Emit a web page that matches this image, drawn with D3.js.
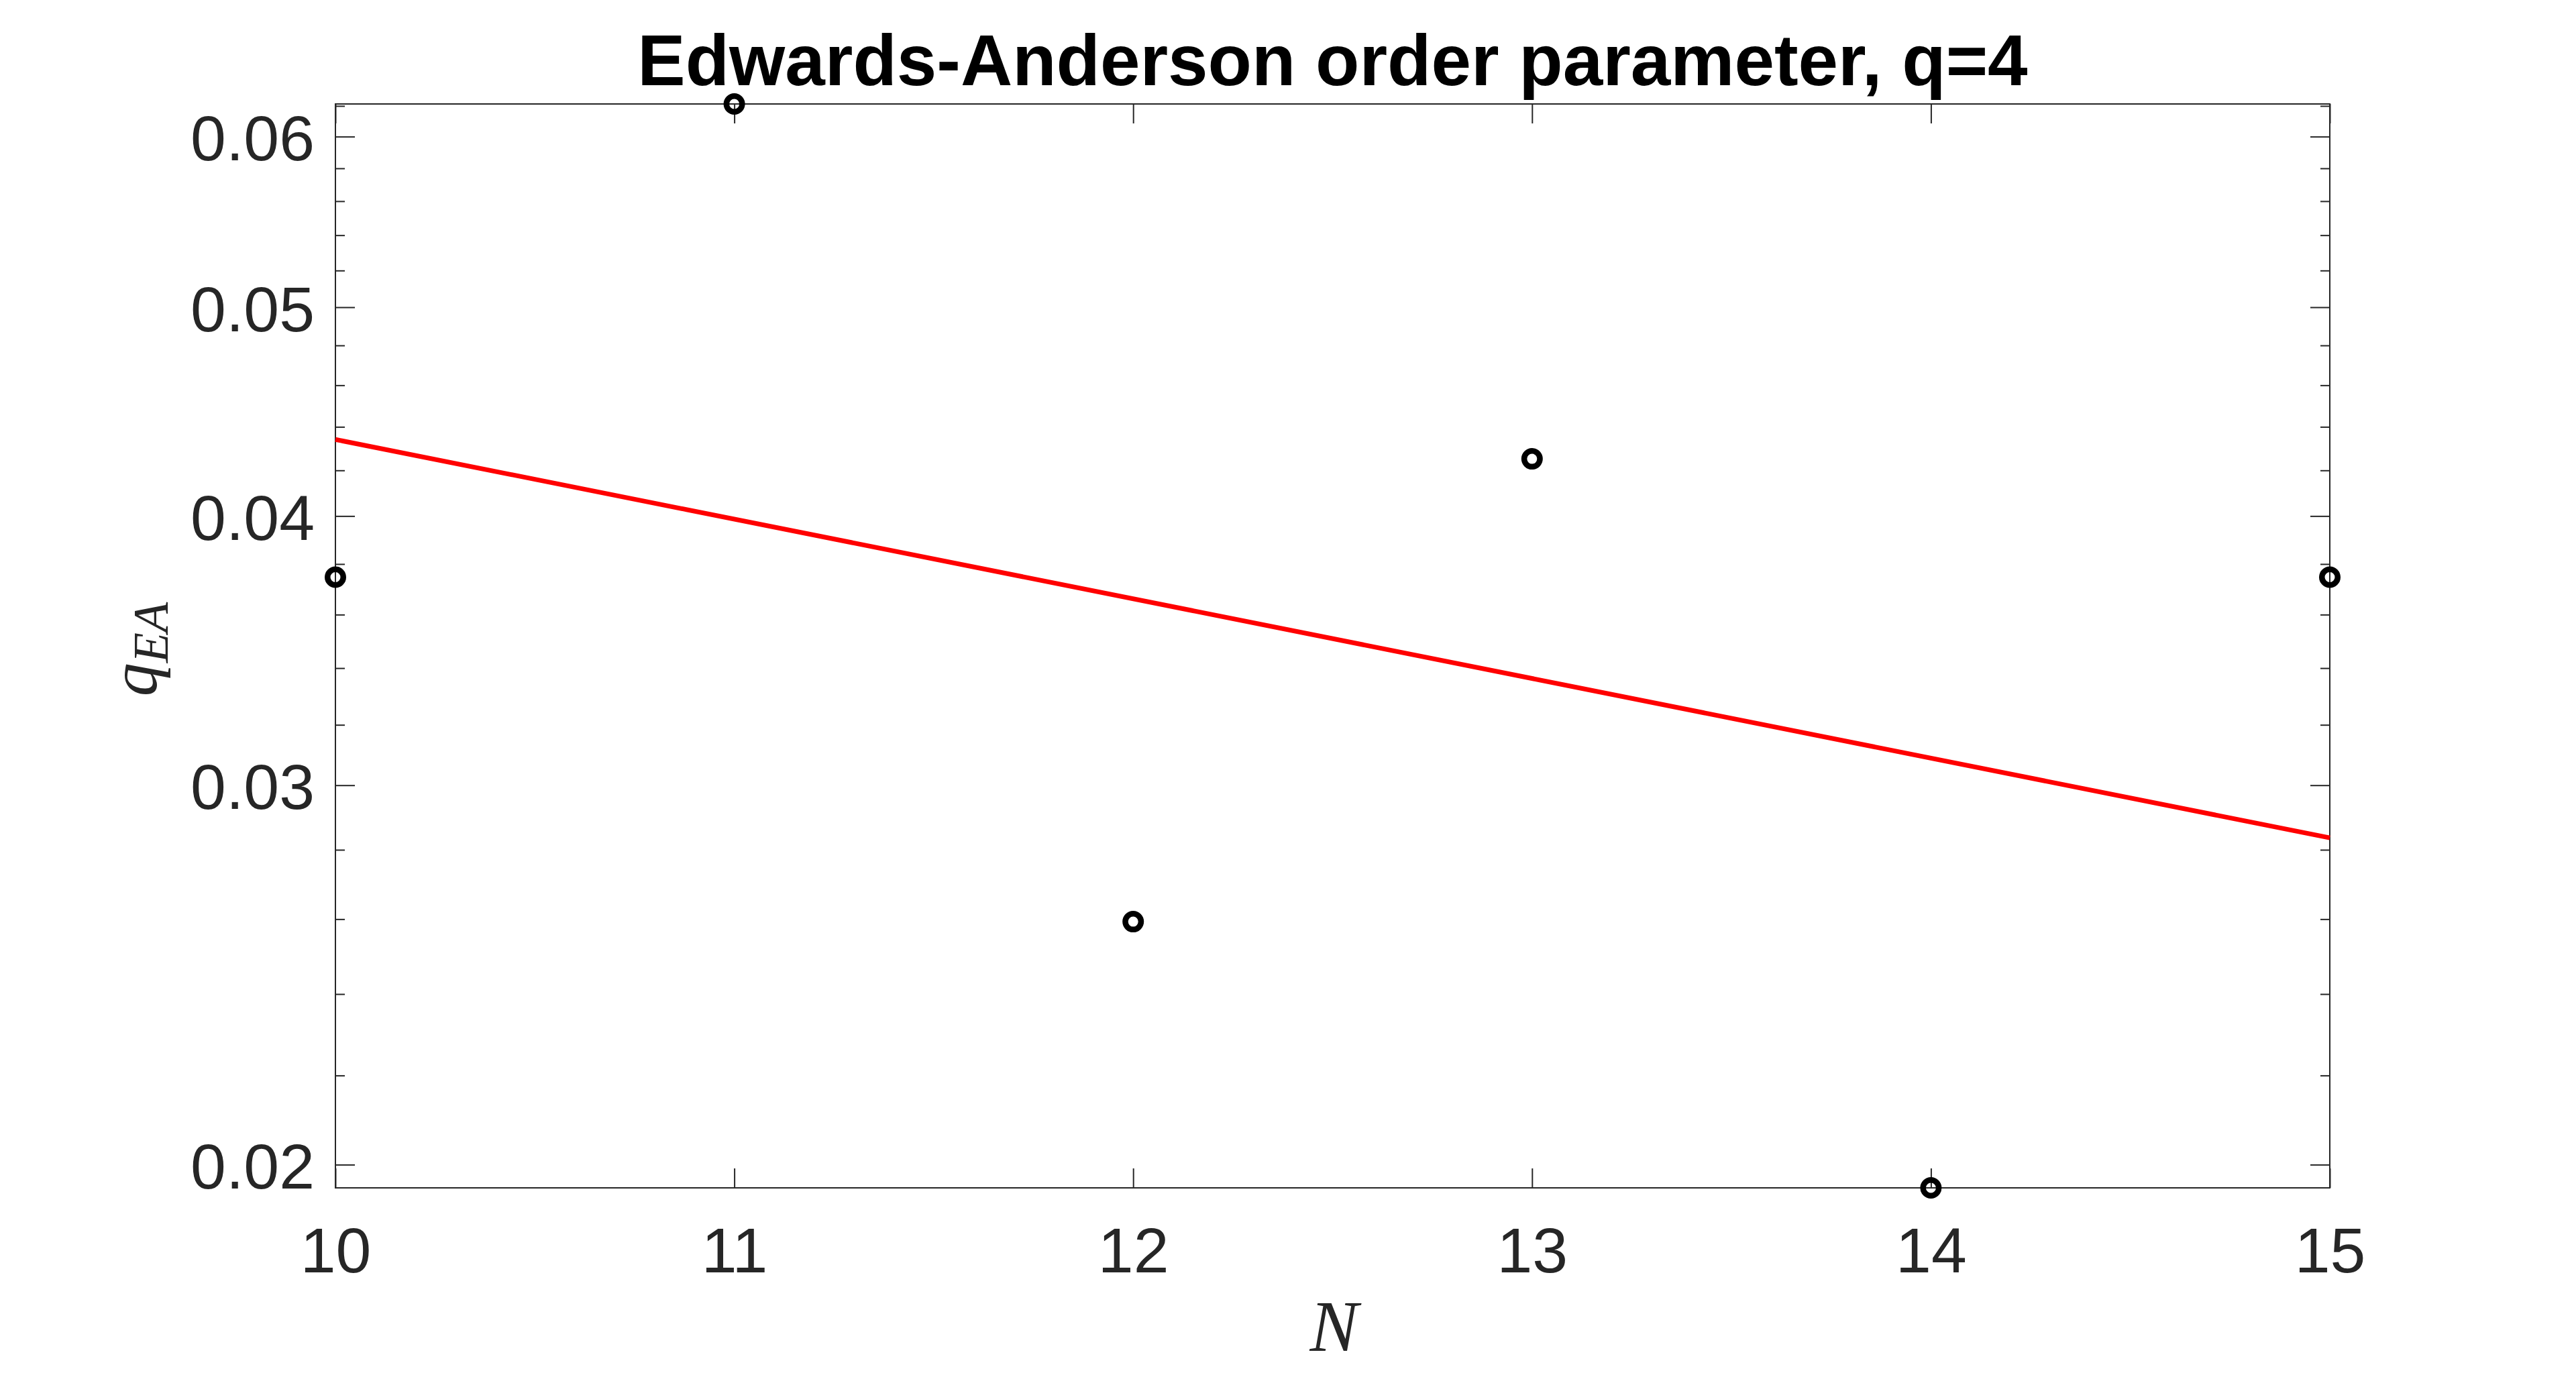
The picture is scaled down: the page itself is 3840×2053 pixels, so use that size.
<!DOCTYPE html>
<html>
<head>
<meta charset="utf-8">
<script src="https://cdn.jsdelivr.net/npm/d3@7"></script>
<style>
	body { margin: 0; background: #fff; }
	svg { display: block; }
</style>
</head>
<body>
<div id="chart"></div>
<script>
// data
var sizeN = [10, 11, 12, 13, 14, 15];
var qEA = [0.03747, 0.06213, 0.02593, 0.04252, 0.01951, 0.03747];

// exponential fit, end points
var fitN = [10, 15];
var fitQ = [0.04341, 0.02836];

var xTicks = [10, 11, 12, 13, 14, 15];
var yTicks = [0.02, 0.03, 0.04, 0.05, 0.06];
var yMinorTicks = [0.022, 0.024, 0.026, 0.028, 0.032, 0.034, 0.036, 0.038,
	0.042, 0.044, 0.046, 0.048, 0.052, 0.054, 0.056, 0.058, 0.062];

var titleText = "Edwards-Anderson order parameter, q=4";

var svgWidth = 3840;
var svgHeight = 2053;

var margin = {
	top: 155,
	right: 367,
	bottom: 282,
	left: 500
}

var width = svgWidth - margin.left - margin.right;
var height = svgHeight - margin.top - margin.bottom;

var axisColor = "#262626";
var majorLen = 29;
var minorLen = 14;

var svg = d3.select("#chart")
	.append("svg")
	.attr("width", svgWidth)
	.attr("height", svgHeight);

var chartGroup = svg.append("g")
	.attr("transform", `translate(${margin.left}, ${margin.top})`);

var xScale = d3.scaleLinear()
	.domain([10, 15])
	.range([0, width]);

var yScale = d3.scaleLog()
	.domain(d3.extent(qEA))
	.range([height, 0]);

// axes: bottom/left with labels, top/right ticks only, all ticks inward
function styleAxis(g) {
	g.select(".domain").remove();
	g.selectAll(".tick line").attr("stroke", axisColor).attr("stroke-width", 2);
	g.selectAll(".tick text")
		.attr("fill", axisColor)
		.style("font-family", "'Liberation Sans', Arial, sans-serif")
		.style("font-size", "95px");
}

var bottomAxis = d3.axisBottom(xScale)
	.tickValues(xTicks)
	.tickSizeInner(-majorLen)
	.tickSizeOuter(0)
	.tickPadding(0)
	.tickFormat(d3.format("d"));

var xAxis = chartGroup.append("g")
	.attr("transform", `translate(0, ${height})`)
	.call(bottomAxis)
	.call(styleAxis);
xAxis.selectAll(".tick text")
	.attr("y", 126)
	.attr("dy", null);

chartGroup.append("g")
	.call(d3.axisTop(xScale).tickValues(xTicks).tickSizeInner(-majorLen).tickSizeOuter(0).tickFormat(""))
	.call(styleAxis);

var leftAxis = d3.axisLeft(yScale)
	.tickValues(yTicks)
	.tickSizeInner(-majorLen)
	.tickSizeOuter(0)
	.tickPadding(0)
	.tickFormat(d3.format(".2f"));

var yAxis = chartGroup.append("g")
	.call(leftAxis)
	.call(styleAxis);
yAxis.selectAll(".tick text")
	.attr("x", -31)
	.attr("dy", "0.37em");

chartGroup.append("g")
	.call(d3.axisLeft(yScale).tickValues(yMinorTicks).tickSizeInner(-minorLen).tickSizeOuter(0).tickFormat(""))
	.call(styleAxis);

chartGroup.append("g")
	.attr("transform", `translate(${width}, 0)`)
	.call(d3.axisRight(yScale).tickValues(yTicks).tickSizeInner(-majorLen).tickSizeOuter(0).tickFormat(""))
	.call(styleAxis);

chartGroup.append("g")
	.attr("transform", `translate(${width}, 0)`)
	.call(d3.axisRight(yScale).tickValues(yMinorTicks).tickSizeInner(-minorLen).tickSizeOuter(0).tickFormat(""))
	.call(styleAxis);

// box
chartGroup.append("rect")
	.attr("x", 0)
	.attr("y", 0)
	.attr("width", width)
	.attr("height", height)
	.attr("fill", "none")
	.attr("stroke", axisColor)
	.attr("stroke-width", 2);

// fit line
var fitLine = d3.line()
	.x(d => xScale(d[0]))
	.y(d => yScale(d[1]));

chartGroup.append("path")
	.datum(d3.zip(fitN, fitQ))
	.attr("d", fitLine)
	.attr("fill", "none")
	.attr("stroke", "#ff0000")
	.attr("stroke-width", 7);

// data points
chartGroup.selectAll(".pt")
	.data(d3.zip(sizeN, qEA))
	.enter()
	.append("circle")
	.attr("class", "pt")
	.attr("cx", d => xScale(d[0]))
	.attr("cy", d => yScale(d[1]))
	.attr("r", 11.75)
	.attr("fill", "none")
	.attr("stroke", "#000")
	.attr("stroke-width", 8.5);

// title
svg.append("text")
	.attr("x", margin.left + width / 2)
	.attr("y", 127)
	.attr("text-anchor", "middle")
	.style("font-family", "'Liberation Sans', Arial, sans-serif")
	.style("font-weight", "bold")
	.style("font-size", "107px")
	.attr("fill", "#000")
	.text(titleText);

// x label
svg.append("text")
	.attr("x", margin.left + width / 2 + 2)
	.attr("y", 2014)
	.attr("text-anchor", "middle")
	.style("font-family", "'Liberation Serif', 'Times New Roman', serif")
	.style("font-style", "italic")
	.style("font-size", "108px")
	.attr("fill", axisColor)
	.text("N");

// y label q_EA
var yLabel = svg.append("text")
	.attr("transform", `translate(233, ${margin.top + height / 2 + 5}) rotate(-90)`)
	.attr("text-anchor", "middle")
	.style("font-family", "'Liberation Serif', 'Times New Roman', serif")
	.style("font-style", "italic")
	.attr("fill", axisColor);
yLabel.append("tspan")
	.style("font-size", "100px")
	.text("q");
yLabel.append("tspan")
	.attr("dy", 17)
	.style("font-size", "74px")
	.text("EA");
</script>
</body>
</html>
